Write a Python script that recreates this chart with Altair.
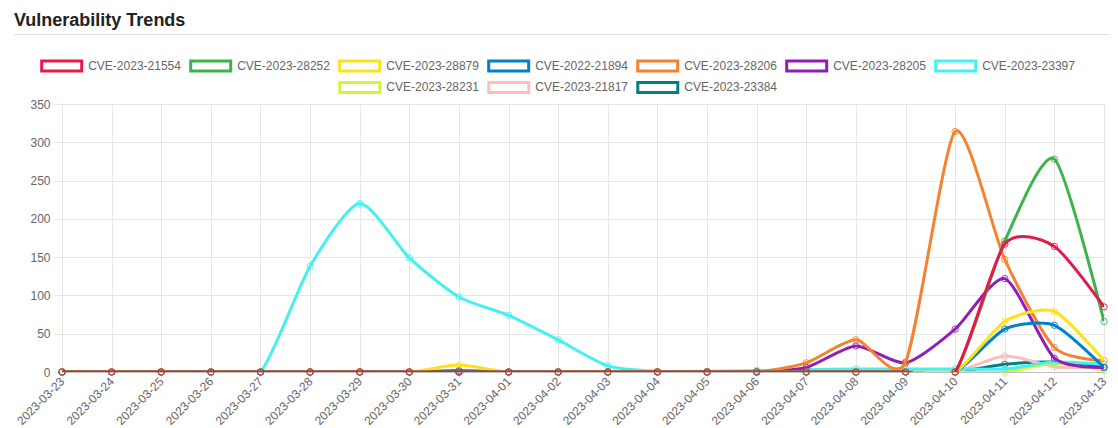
import altair as alt
import pandas as pd

dates = [
    "2023-03-23", "2023-03-24", "2023-03-25", "2023-03-26", "2023-03-27",
    "2023-03-28", "2023-03-29", "2023-03-30", "2023-03-31", "2023-04-01",
    "2023-04-02", "2023-04-03", "2023-04-04", "2023-04-05", "2023-04-06",
    "2023-04-07", "2023-04-08", "2023-04-09", "2023-04-10", "2023-04-11",
    "2023-04-12", "2023-04-13",
]

series_names = [
    "CVE-2023-21554", "CVE-2023-28252", "CVE-2023-28879", "CVE-2022-21894",
    "CVE-2023-28206", "CVE-2023-28205", "CVE-2023-23397",
    "CVE-2023-28231", "CVE-2023-21817", "CVE-2023-23384",
]

series_colors = [
    "#e6194b", "#3cb44b", "#ffe119", "#0082c8", "#f58231",
    "#911eb4", "#46f0f0", "#d2f53c", "#fabebe", "#008080",
]

cve_2023_21554 = [0, 0, 0, 0, 0, 0, 0, 0, 0, 0, 0, 0, 0, 0, 0, 0, 0, 0, 0, 167, 164, 85]
cve_2023_28252 = [0, 0, 0, 0, 0, 0, 0, 0, 0, 0, 0, 0, 0, 0, 0, 0, 0, 0, 0, 171, 278, 66]
cve_2023_28879 = [0, 0, 0, 0, 0, 0, 0, 0, 9, 0, 0, 0, 0, 0, 0, 0, 0, 0, 0, 66, 79, 15]
cve_2022_21894 = [0, 0, 0, 0, 0, 0, 0, 0, 2, 0, 0, 0, 0, 0, 0, 0, 0, 0, 0, 56, 61, 6]
cve_2023_28206 = [0, 0, 0, 0, 0, 0, 0, 0, 0, 0, 0, 0, 0, 0, 0, 12, 42, 13, 314, 147, 32, 15]
cve_2023_28205 = [0, 0, 0, 0, 0, 0, 0, 0, 0, 0, 0, 0, 0, 0, 0, 6, 34, 12, 56, 122, 18, 6]
cve_2023_23397 = [0, 0, 0, 0, 0, 138, 220, 149, 98, 74, 42, 8, 1, 1, 2, 3, 4, 4, 4, 4, 13, 10]
cve_2023_28231 = [0, 0, 0, 0, 0, 0, 0, 0, 0, 0, 0, 0, 0, 0, 0, 0, 0, 0, 0, 0, 11, 2]
cve_2023_21817 = [0, 0, 0, 0, 0, 0, 0, 0, 0, 0, 0, 0, 0, 0, 0, 0, 0, 0, 0, 21, 7, 6]
cve_2023_23384 = [0, 0, 0, 0, 0, 0, 0, 0, 0, 0, 0, 0, 0, 0, 0, 0, 0, 0, 0, 10, 13, 6]

y_ticks = [0, 50, 100, 150, 200, 250, 300, 350]

series_values = [
    cve_2023_21554, cve_2023_28252, cve_2023_28879, cve_2022_21894,
    cve_2023_28206, cve_2023_28205, cve_2023_23397,
    cve_2023_28231, cve_2023_21817, cve_2023_23384,
]

rows = []
for name, vals in zip(series_names, series_values):
    for d, v in zip(dates, vals):
        rows.append({"date": d, "series": name, "value": v})
df = pd.DataFrame(rows)

FONT = "Liberation Sans"
GRID = "#e6e6e6"

group_a = series_names[:7]
group_b = series_names[7:]
colors_a = series_colors[:7]
colors_b = series_colors[7:]

x_enc = alt.X(
    "date:O",
    scale=alt.Scale(type="point", padding=0),
    sort=dates,
    axis=alt.Axis(
        title=None, labelAngle=315, labelAlign="right", labelBaseline="middle",
        labelPadding=1, tickSize=6, tickColor=GRID, grid=True, gridColor=GRID,
        domainColor="#bfbfbf", labelColor="#666666", labelFontSize=12, labelFont=FONT,
        labelOverlap=False,
    ),
)
y_enc = alt.Y(
    "value:Q",
    scale=alt.Scale(domain=[0, 350], nice=False),
    axis=alt.Axis(
        title=None, values=y_ticks, tickSize=8, tickColor=GRID, grid=True,
        gridColor=GRID, domainColor=GRID, labelColor="#666666", labelFontSize=12,
        labelFont=FONT, labelPadding=4,
    ),
)

legend_common = dict(
    orient="none", direction="horizontal", title=None,
    symbolType="M-1,-0.25H1V0.25H-1Z", symbolSize=1600, symbolStrokeWidth=3,
    symbolFillColor="white", symbolOpacity=1,
    labelFont=FONT, labelFontSize=12, labelColor="#666666",
    labelOffset=5, columnPadding=3, padding=0,
)
legend_a = alt.Legend(legendX=-21.8, legendY=-59.7, **legend_common)
legend_b = alt.Legend(legendX=276.3, legendY=-38.3, **legend_common)

base = alt.Chart(df)
layers = []
for name in reversed(series_names):
    if name in group_a:
        ch = alt.Stroke("series:N", scale=alt.Scale(domain=group_a, range=colors_a), legend=legend_a)
    else:
        ch = alt.Color("series:N", scale=alt.Scale(domain=group_b, range=colors_b), legend=legend_b)
    filt = base.transform_filter(alt.datum.series == name)
    line = filt.mark_line(interpolate="cardinal", tension=0.3, strokeWidth=3, clip=True)
    pts = filt.mark_point(filled=False, size=40, strokeWidth=1, opacity=0.9)
    if name in group_a:
        layers.append(line.encode(x=x_enc, y=y_enc, stroke=ch))
        layers.append(pts.encode(x=x_enc, y=y_enc, stroke=ch))
    else:
        layers.append(line.encode(x=x_enc, y=y_enc, color=ch))
        layers.append(pts.encode(x=x_enc, y=y_enc, color=ch))

title_df = pd.DataFrame({"t": ["Vulnerability Trends"]})
title_text = alt.Chart(title_df).mark_text(
    align="left", baseline="alphabetic", font=FONT, fontSize=18,
    fontWeight="bold", color="#222222",
).encode(text="t:N", x=alt.value(-48), y=alt.value(-78))
title_rule = alt.Chart(title_df).mark_rule(color="#dddddd", strokeWidth=1).encode(
    x=alt.value(-48), x2=alt.value(1048), y=alt.value(-69.5)
)

chart = alt.layer(title_text, title_rule, *layers).properties(
    width=1042,
    height=268,
    autosize=alt.AutoSizeParams(type="none"),
    padding={"left": 62, "top": 104, "right": 14, "bottom": 56},
    background="white",
).configure_view(stroke=None)

chart.save("out.html", embed_options={"renderer": "svg", "actions": False})
